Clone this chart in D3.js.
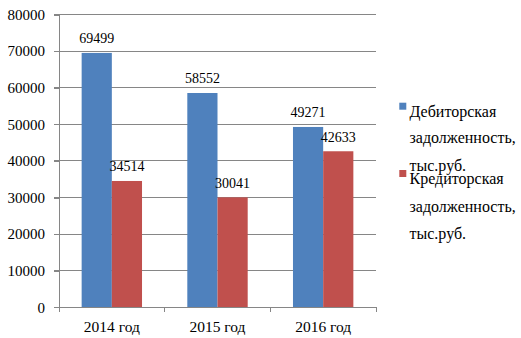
<!DOCTYPE html>
<html><head><meta charset="utf-8">
<script src="https://cdn.jsdelivr.net/npm/d3@7"></script>
<style>
body{margin:0;background:#fff;}
svg{display:block;}
</style></head><body>
<svg id="c" width="521" height="338"></svg>
<script>
const categories = ["2014 год", "2015 год", "2016 год"];
const seriesNames = ["Дебиторская задолженность, тыс.руб.", "Кредиторская задолженность, тыс.руб."];
const debitValues = [69499, 58552, 49271];
const creditValues = [34514, 30041, 42633];
const yTicks = [0, 10000, 20000, 30000, 40000, 50000, 60000, 70000, 80000];
const colors = ["#4F81BD", "#C0504D"];

(function () {
const series = [debitValues, creditValues];
const svg = d3.select("#c");
const pl = 59, pr = 376, pt = 14.5, pb = 307.3;
const FF = "Liberation Serif";

const x = d3.scaleBand().domain(categories).range([pl, pr]).padding(0);
const bw = x.bandwidth() / 3.5;
const xs = d3.scaleBand().domain(d3.range(series.length)).range([0, bw * 2]).padding(0);
const y = d3.scaleLinear().domain([0, 80000]).range([pb, pt]);

// gridlines
svg.append("g").selectAll("line").data(yTicks.filter(d => d > 0)).join("line")
  .attr("x1", pl - 5).attr("x2", pr).attr("y1", d => y(d)).attr("y2", d => y(d))
  .attr("stroke", "#868686").attr("stroke-width", 1).attr("shape-rendering", "crispEdges");

// y axis
const yAxis = svg.append("g").attr("transform", `translate(${pl},0)`)
  .call(d3.axisLeft(y).tickValues(yTicks).tickSize(5).tickPadding(9).tickFormat(d3.format("d")));
yAxis.attr("font-family", FF).attr("font-size", 15);
yAxis.select(".domain").attr("stroke", "#868686").attr("shape-rendering", "crispEdges");
yAxis.selectAll(".tick line").attr("stroke", "#868686").attr("shape-rendering", "crispEdges");
yAxis.selectAll("text").attr("fill", "#000");

// bars
categories.forEach((c, ci) => {
  series.forEach((vals, si) => {
    const x0 = x(c) + bw * 0.75 + xs(si);
    svg.append("rect").attr("x", x0).attr("width", xs.bandwidth())
      .attr("y", y(vals[ci])).attr("height", y(0) - y(vals[ci]))
      .attr("fill", colors[si]);
  });
});

// data labels
categories.forEach((c, ci) => {
  series.forEach((vals, si) => {
    const cx = x(c) + bw * 0.75 + xs(si) + xs.bandwidth() / 2;
    svg.append("text").attr("x", cx).attr("y", y(vals[ci]) - 9.5)
      .attr("font-family", FF)
      .attr("text-anchor", "middle").attr("font-size", 14).attr("fill", "#000")
      .text(vals[ci]);
  });
});

// x axis
const xAxis = svg.append("g").attr("transform", `translate(0,${pb})`);
xAxis.append("line").attr("x1", pl).attr("x2", pr).attr("y1", 0).attr("y2", 0)
  .attr("stroke", "#868686").attr("shape-rendering", "crispEdges");
xAxis.selectAll("line.tk").data(categories.map(c => x(c)).concat([pr])).join("line")
  .attr("class", "tk").attr("x1", d => d).attr("x2", d => d).attr("y1", 0).attr("y2", 5)
  .attr("stroke", "#868686").attr("shape-rendering", "crispEdges");
xAxis.selectAll("text").data(categories).join("text")
  .attr("font-family", FF)
  .attr("x", d => x(d) + x.bandwidth() / 2).attr("y", 24.5)
  .attr("text-anchor", "middle").attr("font-size", 15.5).attr("fill", "#000").text(d => d);

// legend
const legendItems = [
  {sq: 102.7, lines: [116.7, 143.3, 170.7]},
  {sq: 170, lines: [184, 211.7, 239.3]}
];
seriesNames.forEach((name, i) => {
  const words = name.split(" ");
  svg.append("rect").attr("x", 399.3).attr("y", legendItems[i].sq).attr("width", 7).attr("height", 7)
    .attr("fill", colors[i]);
  words.forEach((w, j) => {
    svg.append("text").attr("x", 409.5).attr("y", legendItems[i].lines[j])
      .attr("font-family", FF)
      .attr("font-size", 16).attr("fill", "#000").text(w);
  });
});
})();
</script></body></html>
